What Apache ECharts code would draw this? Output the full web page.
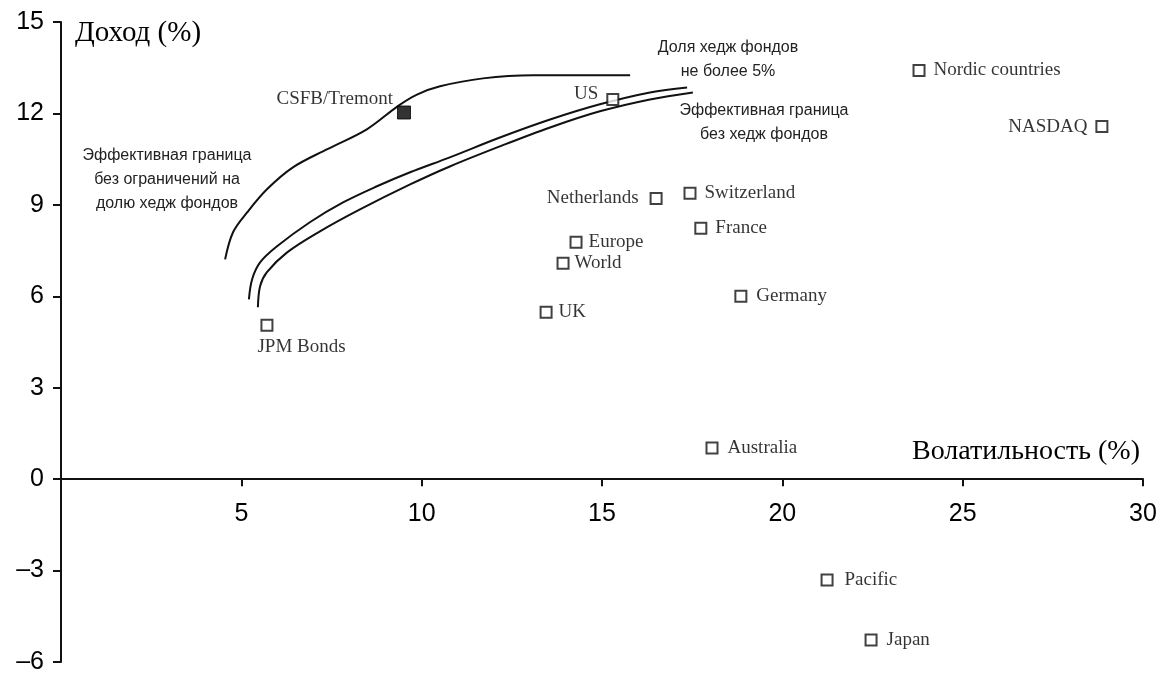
<!DOCTYPE html>
<html>
<head>
<meta charset="utf-8">
<script src="https://cdn.jsdelivr.net/npm/echarts@6/dist/echarts.min.js"></script>
<style>
html,body{margin:0;padding:0;background:#fff;}
#chart{width:1167px;height:679px;}
</style>
</head>
<body>
<div id="chart"></div>
<script>
// ---- Data ----
var xTicks = [0, 5, 10, 15, 20, 25, 30];
var yTicks = [-6, -3, 0, 3, 6, 9, 12, 15];

var assetNames = ['JPM Bonds','US','Nordic countries','NASDAQ','Netherlands','Switzerland','France','Europe','World','UK','Germany','Australia','Pacific','Japan'];
var assetVol   = [5.71, 15.30, 23.79, 28.86, 16.50, 17.44, 17.74, 14.28, 13.92, 13.45, 18.85, 18.05, 21.24, 22.46];
var assetRet   = [5.05, 12.46, 13.41, 11.57, 9.21, 9.38, 8.23, 7.77, 7.08, 5.48, 6.00, 1.02, -3.31, -5.28];

var hfName = ['CSFB/Tremont'];
var hfVol  = [9.51];
var hfRet  = [12.03];

// Efficient frontier without constraints on hedge fund share
var frontUncVol = [4.55, 4.77, 5.16, 5.71, 6.43, 7.37, 8.48, 9.35, 9.87, 10.51, 11.70, 13.09, 15.78];
var frontUncRet = [7.21, 8.10, 8.75, 9.51, 10.23, 10.82, 11.48, 12.25, 12.62, 12.89, 13.15, 13.25, 13.25];

// Hedge fund share at most 5%
var front5Vol = [5.21, 5.30, 5.52, 5.99, 6.90, 7.82, 8.76, 9.68, 10.78, 12.17, 13.56, 14.94, 16.33, 17.36];
var front5Ret = [5.90, 6.56, 7.11, 7.64, 8.43, 9.08, 9.61, 10.07, 10.56, 11.21, 11.80, 12.30, 12.69, 12.85];

// Efficient frontier without hedge funds
var frontNoVol = [5.46, 5.52, 5.71, 6.27, 7.18, 8.29, 9.68, 10.78, 12.17, 13.56, 14.94, 16.33, 17.52];
var frontNoRet = [5.64, 6.33, 6.79, 7.44, 8.13, 8.85, 9.67, 10.26, 10.92, 11.54, 12.07, 12.46, 12.69];

// ---- Label placement (style) ----
var labelStyle = {
  'JPM Bonds': {position: [-3, 28], align: 'left', verticalAlign: 'middle'},
  'US': {position: 'left', distance: 8, offset: [0, -5]},
  'Nordic countries': {position: 'right', distance: 8},
  'NASDAQ': {position: 'left', distance: 8},
  'Netherlands': {position: 'left', distance: 11},
  'Switzerland': {position: 'right', distance: 8},
  'France': {position: 'right', distance: 8},
  'Europe': {position: 'right', distance: 6},
  'World': {position: 'right', distance: 5},
  'UK': {position: 'right', distance: 6},
  'Germany': {position: 'right', distance: 9},
  'Australia': {position: 'right', distance: 9},
  'Pacific': {position: 'right', distance: 11},
  'Japan': {position: 'right', distance: 9}
};

function zip(a, b) { return a.map(function (v, i) { return [v, b[i]]; }); }

var serif = '"Liberation Serif","Times New Roman",serif';
var sans = '"Liberation Sans",Arial,Helvetica,sans-serif';
var ink = '#111';
var textInk = '#000';

var W = 1167, H = 679;
var gridBox = {left: 61, right: 24, top: 22, bottom: 17};
var yMin = yTicks[0], yMax = yTicks[yTicks.length - 1];
var gridH = H - gridBox.top - gridBox.bottom;
// move the x axis up from the grid bottom to the y = 0 level
var xAxisOffset = -gridH * (0 - yMin) / (yMax - yMin);

var assetData = assetNames.map(function (n, i) {
  var ls = labelStyle[n] || {position: 'right'};
  var lab = Object.assign({show: true, formatter: n, color: textInk, fontFamily: serif, fontSize: 19}, ls);
  return {name: n, value: [assetVol[i], assetRet[i]], label: lab};
});
var hfData = hfName.map(function (n, i) {
  return {name: n, value: [hfVol[i], hfRet[i]],
    label: {show: true, formatter: n, color: textInk, fontFamily: serif, fontSize: 19,
      position: 'left', distance: 4, offset: [0, -13]}};
});

var lineCommon = {
  type: 'line', smooth: 0.35, showSymbol: false, symbol: 'none',
  lineStyle: {color: ink, width: 2}, silent: true, z: 2
};

var chart = echarts.init(document.getElementById('chart'), null, {renderer: 'canvas'});
chart.setOption({
  backgroundColor: '#fff',
  animation: false,
  grid: Object.assign({containLabel: false, outerBoundsMode: 'none'}, gridBox),
  xAxis: {
    type: 'value', min: xTicks[0], max: xTicks[xTicks.length - 1], interval: 5,
    position: 'bottom', offset: xAxisOffset,
    axisLine: {show: true, onZero: false, lineStyle: {color: ink, width: 2}},
    axisTick: {show: true, inside: false, length: 7, lineStyle: {color: ink, width: 2}},
    axisLabel: {
      margin: 22, color: textInk, fontFamily: sans, fontSize: 25,
      formatter: function (v) { return v === 0 ? '' : String(v); }
    },
    splitLine: {show: false}
  },
  yAxis: {
    type: 'value', min: yMin, max: yMax, interval: 3,
    axisLine: {show: true, onZero: false, lineStyle: {color: ink, width: 2}},
    axisTick: {show: true, inside: false, length: 8, lineStyle: {color: ink, width: 2}},
    axisLabel: {
      margin: 17, color: textInk, fontFamily: sans, fontSize: 25,
      formatter: function (v) { return String(v).replace('-', '\u2013'); }
    },
    splitLine: {show: false}
  },
  series: [
    Object.assign({name: 'Unconstrained', data: zip(frontUncVol, frontUncRet)}, lineCommon),
    Object.assign({name: 'HF max 5%', data: zip(front5Vol, front5Ret)}, lineCommon),
    Object.assign({name: 'No HF', data: zip(frontNoVol, frontNoRet)}, lineCommon),
    {
      name: 'Assets', type: 'scatter', symbol: 'rect', symbolSize: 11, z: 5,
      itemStyle: {color: '#fff', borderColor: ink, borderWidth: 2},
      data: assetData
    },
    {
      name: 'Hedge funds', type: 'scatter', symbol: 'rect', symbolSize: 13, z: 5,
      itemStyle: {color: '#000', borderColor: '#000', borderWidth: 1},
      data: hfData
    }
  ],
  graphic: [
    {type: 'text', left: 75, top: 19, z: 10,
      style: {text: 'Доход (%)', font: '29px ' + serif, fill: textInk}},
    {type: 'text', right: 27, top: 438, z: 10,
      style: {text: 'Волатильность (%)', font: '28px ' + serif, fill: textInk}},
    {type: 'text', x: 167, y: 144, z: 10,
      style: {text: 'Эффективная граница\nбез ограничений на\nдолю хедж фондов', font: '16px ' + sans,
        fill: '#222', align: 'center', lineHeight: 24}},
    {type: 'text', x: 728, y: 36, z: 10,
      style: {text: 'Доля хедж фондов\nне более 5%', font: '16px ' + sans,
        fill: '#222', align: 'center', lineHeight: 24}},
    {type: 'text', x: 764, y: 99, z: 10,
      style: {text: 'Эффективная граница\nбез хедж фондов', font: '16px ' + sans,
        fill: '#222', align: 'center', lineHeight: 24}}
  ]
});
</script>
</body>
</html>
